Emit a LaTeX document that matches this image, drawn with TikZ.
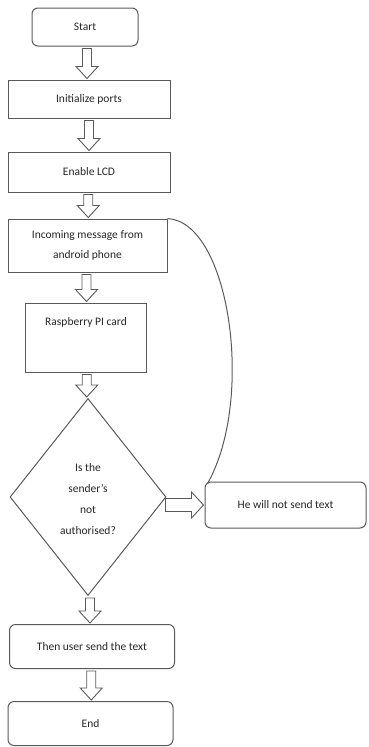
\documentclass[tikz,border=0pt]{standalone}
\usepackage{fontspec}
\setmainfont{Carlito}
\usetikzlibrary{shapes.geometric,calc}
\definecolor{lc}{HTML}{5A5A5A}
\definecolor{tc}{HTML}{262626}
\newcommand\fs{\fontsize{11.5}{20}\selectfont}
\newcommand\fsd{\fontsize{11.5}{21}\selectfont}
\newcommand\vblk[2]{%
  \draw[blk] let \p1=(#1.south), \p2=(#2.north), \n1={(\x1+\x2)/2} in
    (\n1-4.5,\y1-2pt) -- (\n1+4.5,\y1-2pt) -- (\n1+4.5,\y2+13pt) -- (\n1+11,\y2+13pt)
    -- (\n1,\y2+1pt) -- (\n1-11,\y2+13pt) -- (\n1-4.5,\y2+13pt) -- cycle;}
\begin{document}
\begin{tikzpicture}[x=1pt,y=-1pt,
  box/.style={draw=lc, line width=1pt, inner sep=0pt, text=tc, font=\fs, align=center},
  rbox/.style={box, rounded corners=6pt},
  blk/.style={draw=lc, line width=0.9pt, line join=miter},
  lbl/.style={text=tc, font=\fs, align=center, inner sep=0pt}]
\useasboundingbox (0,0) rectangle (368,747);
\node[rbox, minimum width=106pt, minimum height=38pt] (start) at (85,27) {Start};
\node[box, minimum width=162pt, minimum height=38pt] (init) at (89,99) {Initialize ports};
\node[box, minimum width=162pt, minimum height=40pt] (lcd) at (89,172) {Enable LCD};
\node[box, minimum width=159pt, minimum height=53pt] (inc) at (87.5,245.5) {Incoming message from\\android phone};
\node[box, minimum width=121pt, minimum height=69pt] (rasp) at (85.5,337.5) {};
\node[lbl] (rasptxt) at (86,322) {Raspberry PI card};
\node[draw=lc, line width=1pt, diamond, minimum width=156pt, minimum height=197pt, inner sep=0pt] (dec) at (88,497) {};
\node[lbl, font=\fsd] (dectxt) at (88,499) {Is the\\sender's\\not\\authorised?};
\node[rbox, minimum width=165pt, minimum height=44pt] (then) at (92,646.5) {Then user send the text};
\node[rbox, minimum width=165pt, minimum height=44pt] (end) at (90.5,723.5) {End};
\node[rbox, minimum width=161pt, minimum height=46pt] (he) at (285.5,505) {He will not send text};
\vblk{start}{init}
\vblk{init}{lcd}
\vblk{lcd}{inc}
\vblk{inc}{rasp}
\vblk{rasp}{dec}
\vblk{dec}{then}
\vblk{then}{end}
\draw[blk] let \p1=(dec.east), \p2=(he.west) in
  (\x1-1pt,\y2+6.5pt) -- (\x2-13pt,\y2+6.5pt) -- (\x2-13pt,\y2+13pt) -- (\x2-1pt,\y2)
  -- (\x2-13pt,\y2-13pt) -- (\x2-13pt,\y2-6.5pt) -- (\x1-1pt,\y2-6.5pt) -- cycle;
\draw[lc, line width=1pt] (inc.north east) .. controls (230,222) and (255,400) .. ($(he.north west)+(3,2)$);
\end{tikzpicture}
\end{document}
